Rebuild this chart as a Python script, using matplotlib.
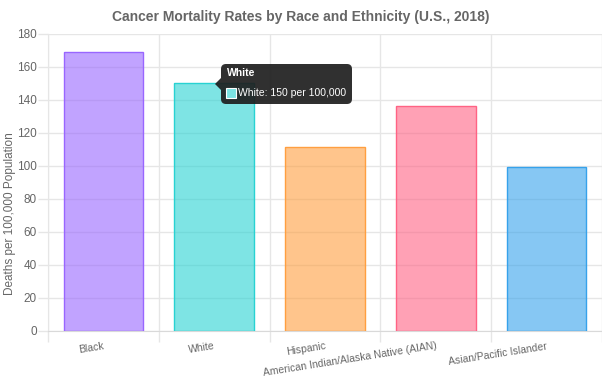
import matplotlib
matplotlib.use("Agg")
import matplotlib.pyplot as plt
from matplotlib.patches import FancyBboxPatch, Rectangle, Polygon
import numpy as np

plt.rcParams["font.family"] = ["Liberation Sans", "DejaVu Sans"]

categories = ["Black", "White", "Hispanic",
              "American Indian/Alaska Native (AIAN)", "Asian/Pacific Islander"]
rates = [169, 150, 111, 136, 99]
base_colors = ["#9966FF", "#28D2D2", "#FF9F40", "#FF6384", "#36A2EB"]

TEXT = "#666666"
GRID = "#E6E6E6"

fig = plt.figure(figsize=(6.02, 3.87), dpi=100)
ax = fig.add_axes([48 / 602, 1 - 330.7 / 387, 554 / 602, (330.7 - 33.6) / 387])

xs = np.arange(len(categories))
ax.bar(xs, rates, width=0.72, color=base_colors, alpha=0.6, zorder=2)
ax.bar(xs, rates, width=0.72, color="none", edgecolor=base_colors,
       linewidth=1, zorder=3)

ax.set_xlim(-0.5, len(categories) - 0.5)
ax.set_ylim(0, 180)
ax.set_yticks(range(0, 181, 20))
ax.tick_params(axis="y", colors=GRID, labelcolor=TEXT, labelsize=8.5,
               length=7, width=1, pad=1)

# category boundaries as vertical grid lines
ax.set_xticks(np.arange(-0.5, len(categories), 1.0))
ax.set_xticklabels([])
ax.tick_params(axis="x", colors=GRID, length=8, width=1)
ax.grid(True, color=GRID, linewidth=1, zorder=0)
ax.set_axisbelow(True)
for s in ["top", "right"]:
    ax.spines[s].set_visible(False)
ax.spines["left"].set_color(GRID)
ax.spines["bottom"].set_color("#D9D9D9")

for x, lab in zip(xs, categories):
    ax.annotate(lab, (x, 0), xycoords=("data", "axes fraction"),
                xytext=(0, -7.5), textcoords="offset points",
                rotation=9, rotation_mode="anchor", ha="right", va="top",
                fontsize=7.5, color=TEXT)

fig.text(10 / 602, 1 - 214 / 387, "Deaths per 100,000 Population", rotation=90,
         ha="center", va="center", fontsize=8.5, color=TEXT)
fig.text(0.5, 1 - 17 / 387, "Cancer Mortality Rates by Race and Ethnicity (U.S., 2018)",
         ha="center", va="center", fontsize=10, fontweight="bold", color=TEXT)

# tooltip on the White bar
tip = "#1E1E1E"
box = FancyBboxPatch((221, 387 - 104), 131, 40,
                     boxstyle="round,pad=0,rounding_size=5",
                     transform=None, facecolor=tip, alpha=0.92,
                     edgecolor="none", zorder=10)
fig.patches.append(box)
caret = Polygon([[221, 387 - 78], [221, 387 - 90], [215, 387 - 84]],
                closed=True, transform=None, facecolor=tip, alpha=0.92,
                edgecolor="none", zorder=10)
fig.patches.append(caret)
sw = Rectangle((226, 387 - 98), 10, 10, transform=None,
               facecolor="#7BE3E3", edgecolor="white", linewidth=0.8, zorder=11)
fig.patches.append(sw)
fig.text(227 / 602, 1 - 73 / 387, categories[1], fontsize=7.5, fontweight="bold",
         color="white", va="center", ha="left", zorder=12)
fig.text(238 / 602, 1 - 93 / 387, f"{categories[1]}: {rates[1]} per 100,000",
         fontsize=7.5, color="white", va="center", ha="left", zorder=12)

fig.savefig("out.png", dpi=100)
